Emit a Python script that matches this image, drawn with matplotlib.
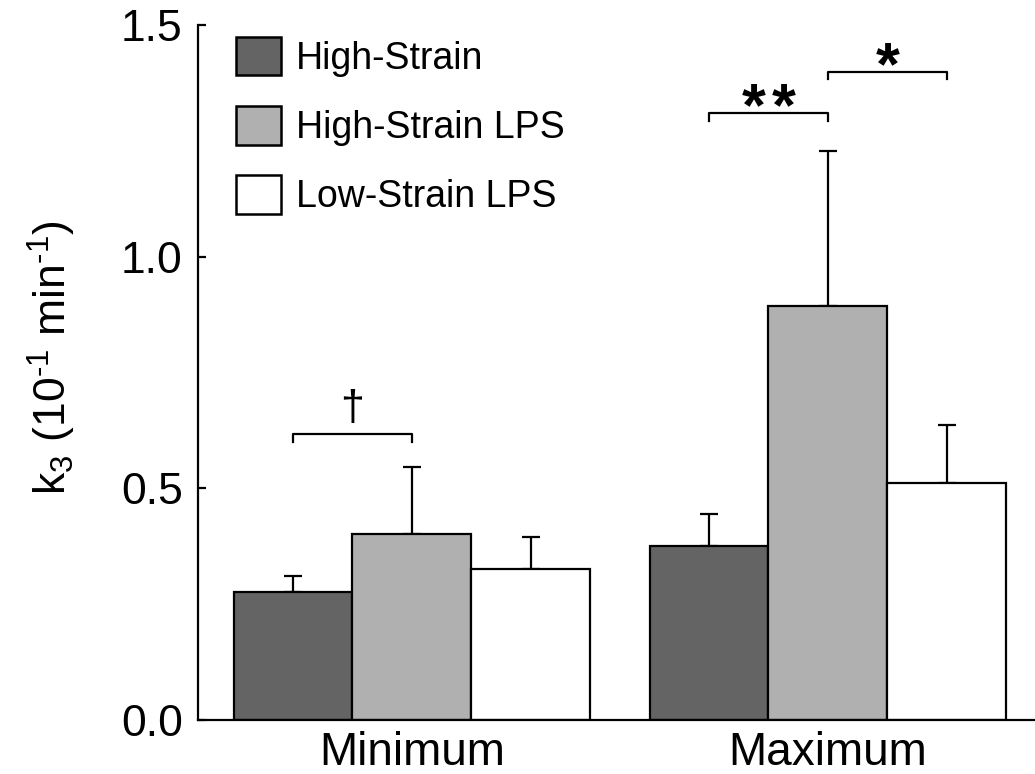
import numpy as np
from matplotlib import pyplot as plt
from matplotlib.patches import Patch

plt.rcParams['font.family'] = ['Liberation Sans', 'DejaVu Sans']
plt.rcParams['mathtext.fontset'] = 'custom'
plt.rcParams['mathtext.rm'] = 'Liberation Sans'
plt.rcParams['mathtext.it'] = 'Liberation Sans:italic'

# values
categories = ['Minimum', 'Maximum']
series = ['High-Strain', 'High-Strain LPS', 'Low-Strain LPS']
high = [0.276, 0.376]
high_err = [0.034, 0.069]
high_lps = [0.402, 0.893]
high_lps_err = [0.145, 0.335]
low_lps = [0.326, 0.512]
low_lps_err = [0.068, 0.124]
colors = ['#646464', '#b0b0b0', '#ffffff']

# significance brackets: (left bar, right bar, y, label)
brackets = [((0, 0), (0, 1), 0.617, u'\u2020'),
            ((1, 0), (1, 1), 1.309, '**'),
            ((1, 1), (1, 2), 1.399, '*')]

fig = plt.figure(figsize=(10.35, 7.74), dpi=100)
ax = fig.add_axes([198/1035., 1 - 720/774., 1 - 198/1035., 695/774.])

centers = np.array([0.0, 3.5])
w = 1.0
vals = [high, high_lps, low_lps]
errs = [high_err, high_lps_err, low_lps_err]
for k in range(3):
	x = centers + (k - 1)*w
	ax.bar(x, vals[k], w, color=colors[k], edgecolor='black', linewidth=1.6,
		zorder=2, label=series[k])
	ax.errorbar(x, vals[k], yerr=[np.zeros(2), errs[k]], fmt='none', ecolor='black',
		elinewidth=1.6, capsize=6.5, capthick=1.6, zorder=1)

for (g1, b1), (g2, b2), y, txt in brackets:
	x1 = centers[g1] + (b1 - 1)*w
	x2 = centers[g2] + (b2 - 1)*w
	xm = (x1 + x2)/2
	ax.plot([x1, x1, x2, x2], [y - 0.016, y, y, y - 0.016], color='black', lw=1.6)
	if txt == u'\u2020':
		ax.text(xm, y + 0.01, txt, ha='center', va='bottom', fontsize=31)
	else:
		n = len(txt)
		for i in range(n):
			ax.text(xm + (i - (n - 1)/2.)*0.25, y - 0.026, '*', ha='center',
				va='baseline', fontsize=44, fontweight='bold')

ax.set_xlim(-1.8, 5.243)
ax.set_ylim(0, 1.5)
ax.set_yticks([0, 0.5, 1.0, 1.5])
ax.set_yticklabels(['0.0', '0.5', '1.0', '1.5'])
ax.set_xticks(centers)
ax.set_xticklabels(categories)
ax.tick_params(axis='y', direction='in', length=6, width=1.6, labelsize=32, pad=11)
ax.tick_params(axis='x', length=0, labelsize=33, pad=8)
ax.spines['top'].set_visible(False)
ax.spines['right'].set_visible(False)
ax.spines['left'].set_linewidth(1.6)
ax.spines['bottom'].set_linewidth(1.6)
ax.spines['bottom'].set_zorder(3)

fig.text(52/1035., 1 - 358/774., r'k$_3$ (10$^{\text{-1}}$ min$^{\text{-1}}$)', rotation=90,
	ha='center', va='center', fontsize=32)

handles = [Patch(facecolor=c, edgecolor='black', linewidth=1.8) for c in colors]
ax.legend(handles, series, loc='upper left', bbox_to_anchor=(236/1035., 1 - 37/774.),
	bbox_transform=fig.transFigure, frameon=False, fontsize=27, handlelength=1.2,
	handleheight=1.2, handletextpad=0.4, labelspacing=0.78, borderpad=0,
	borderaxespad=0)

fig.savefig('out.png', dpi=100)
